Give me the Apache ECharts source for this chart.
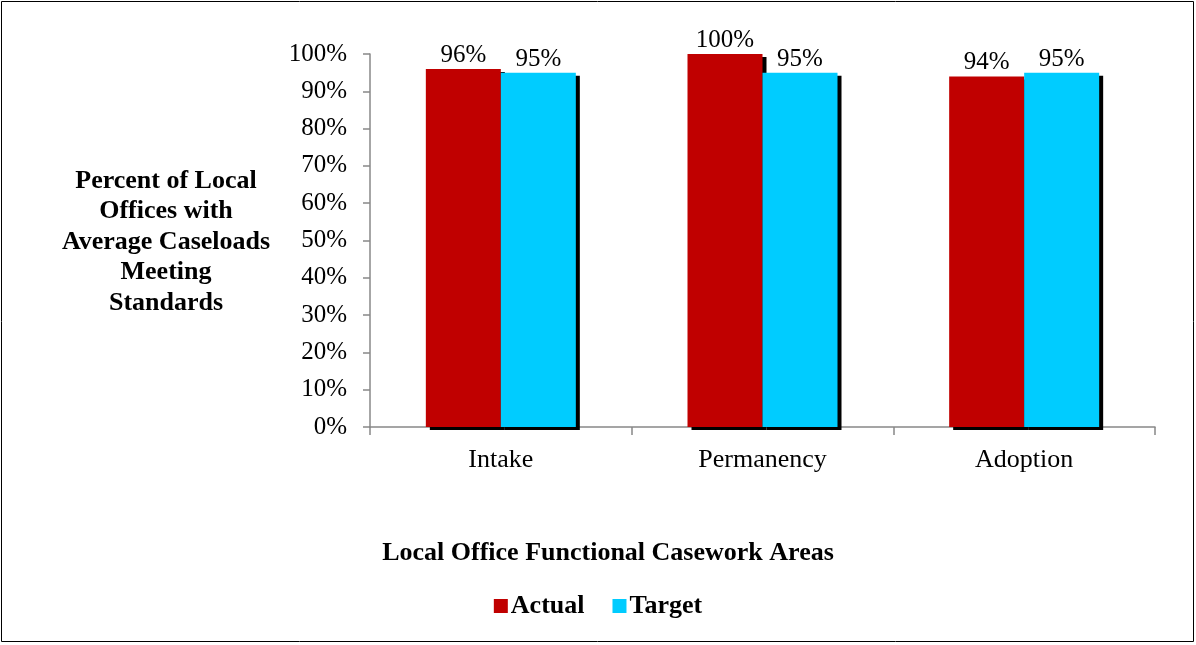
<!DOCTYPE html>
<html>
<head>
<meta charset="utf-8">
<script src="https://cdn.jsdelivr.net/npm/echarts@6/dist/echarts.min.js"></script>
<style>
  html, body { margin: 0; padding: 0; background: #fff; }
  #chart { width: 1196px; height: 645px; }
</style>
</head>
<body>
<div id="chart"></div>
<script>
// data
var categories = ['Intake', 'Permanency', 'Adoption'];
var actual = [96, 100, 94];
var target = [95, 95, 95];
var yTicks = [0, 10, 20, 30, 40, 50, 60, 70, 80, 90, 100];

var serif = '"Liberation Serif", "Times New Roman", serif';
var myChart = echarts.init(document.getElementById('chart'));

// black drop shadow to the right of each bar
var barShadow = {
    shadowColor: '#000',
    shadowBlur: 0,
    shadowOffsetX: 4,
    shadowOffsetY: 3
};

var option = {
    animation: false,
    textStyle: { fontFamily: serif },
    grid: { left: 370, right: 41, top: 54, bottom: 218 },
    legend: {
        data: ['Actual', 'Target'],
        top: 588,
        left: 'center',
        itemWidth: 14,
        itemHeight: 14,
        itemGap: 28,
        icon: 'rect',
        textStyle: { fontFamily: serif, fontSize: 26, fontWeight: 'bold', color: '#000', padding: [0, 0, 0, -2] }
    },
    xAxis: {
        type: 'category',
        data: categories,
        axisLine: { lineStyle: { color: '#888', width: 1.5 } },
        axisTick: { show: true, length: 8, lineStyle: { color: '#888', width: 1.5 } },
        axisLabel: { fontFamily: serif, fontSize: 26, color: '#000', margin: 20 }
    },
    yAxis: {
        type: 'value',
        min: 0,
        max: 100,
        interval: 10,
        splitLine: { show: false },
        axisLine: { show: true, lineStyle: { color: '#888', width: 1.5 } },
        axisTick: { show: true, length: 7, lineStyle: { color: '#888', width: 1.5 } },
        axisLabel: {
            fontFamily: serif, fontSize: 25, color: '#000', margin: 23,
            formatter: function (v) { return yTicks.indexOf(v) >= 0 ? v + '%' : ''; }
        }
    },
    series: [
        {
            name: 'Actual',
            type: 'bar',
            data: actual,
            barWidth: 75,
            barGap: '0%',
            itemStyle: Object.assign({ color: '#C00000' }, barShadow),
            label: {
                show: true, position: 'top', distance: 1,
                formatter: '{c}%',
                fontFamily: serif, fontSize: 25, color: '#000'
            },
            z: 2
        },
        {
            name: 'Target',
            type: 'bar',
            data: target,
            barWidth: 75,
            itemStyle: Object.assign({ color: '#00CCFF' }, barShadow),
            label: {
                show: true, position: 'top', distance: 1,
                formatter: '{c}%',
                fontFamily: serif, fontSize: 25, color: '#000'
            },
            z: 3
        }
    ],
    graphic: [
        {
            type: 'rect',
            shape: { x: 1.5, y: 1.5, width: 1192, height: 640 },
            style: { fill: 'none', stroke: '#000', lineWidth: 1 }
        },
        {
            type: 'text',
            x: 166,
            y: 166,
            style: {
                text: 'Percent of Local\nOffices with\nAverage Caseloads\nMeeting\nStandards',
                align: 'center',
                font: 'bold 26px ' + serif,
                lineHeight: 30.5,
                fill: '#000'
            }
        },
        {
            type: 'text',
            x: 608,
            y: 540,
            style: {
                text: 'Local Office Functional Casework Areas',
                align: 'center',
                font: 'bold 26px ' + serif,
                fill: '#000'
            }
        }
    ]
};
myChart.setOption(option);
</script>
</body>
</html>
